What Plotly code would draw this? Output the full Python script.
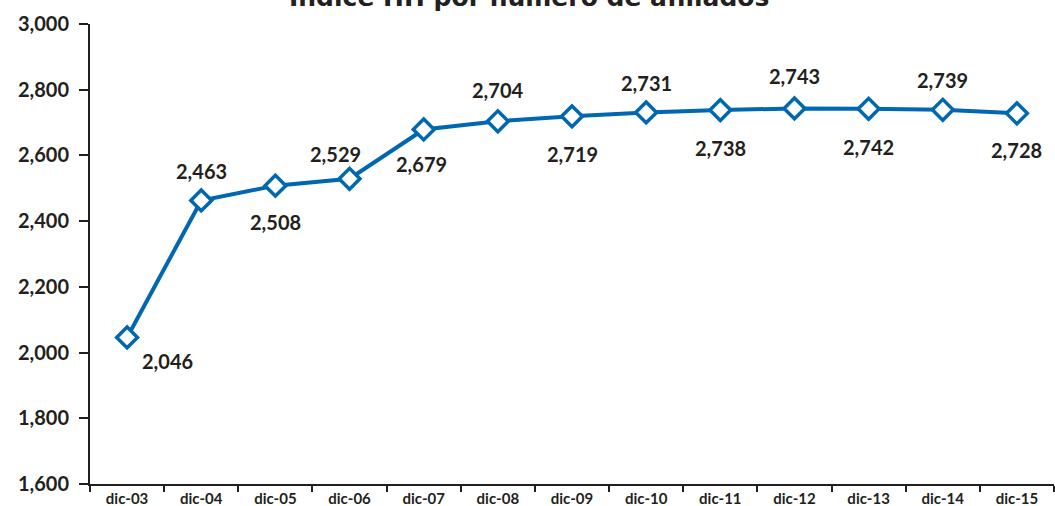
import plotly.graph_objects as go

categories = ["dic-03", "dic-04", "dic-05", "dic-06", "dic-07", "dic-08", "dic-09",
              "dic-10", "dic-11", "dic-12", "dic-13", "dic-14", "dic-15"]
values = [2046, 2463, 2508, 2529, 2679, 2704, 2719, 2731, 2738, 2743, 2742, 2739, 2728]
title_text = "Índice HH por número de afiliados"

# label offsets (pixels): (xshift, yshift)
label_offsets = [(40, -24), (0, 29), (0, -36), (-14, 25), (-2, -35), (0, 31), (0, -38),
                 (0, 29), (0, -38), (0, 32), (0, -38), (0, 30), (0, -37)]

blue = "#0068b0"
dark = "#231f20"
font_family = "Century Gothic, Lato, Noto Sans, sans-serif"
title_family = "Century Gothic, DejaVu Sans, sans-serif"

fig = go.Figure()
fig.add_trace(go.Scatter(
    x=categories, y=values, mode="lines+markers",
    line=dict(color=blue, width=4),
    marker=dict(symbol="diamond", size=16, color="white",
                line=dict(color=blue, width=3.5)),
    cliponaxis=False, showlegend=False,
))

for c, v, (dx, dy) in zip(categories, values, label_offsets):
    fig.add_annotation(x=c, y=v, xref="x", yref="y", text=f"<b>{v:,}</b>",
                       showarrow=False, xshift=dx, yshift=dy,
                       font=dict(size=20, color=dark, family=font_family))

fig.add_annotation(x=0.455, y=1, xref="paper", yref="paper", text=f"<b>{title_text}</b>",
                   showarrow=False, yanchor="bottom", yshift=10,
                   font=dict(size=25, color=dark, family=title_family))

fig.update_layout(
    width=1055, height=506,
    margin=dict(l=90, r=1, t=24, b=22, autoexpand=False),
    paper_bgcolor="white", plot_bgcolor="white",
    font=dict(family=font_family, color=dark),
    xaxis=dict(type="category", showline=True, linecolor=dark, linewidth=2,
               ticks="outside", tickson="boundaries", ticklen=6, tickwidth=2,
               tickcolor=dark, showgrid=False, zeroline=False, automargin=False,
               tickfont=dict(size=15, family=font_family), ticklabelstandoff=0,
               tickprefix="<b>", ticksuffix="</b>", range=[-0.5, 12.5]),
    yaxis=dict(range=[1600, 3000], dtick=200, tickformat=",", showline=True,
               linecolor=dark, linewidth=2, ticks="outside", ticklen=9,
               tickwidth=2, tickcolor=dark, showgrid=False, zeroline=False,
               automargin=False, ticklabelstandoff=6,
               tickfont=dict(size=20, family=font_family),
               tickprefix="<b>", ticksuffix="</b>"),
)

fig.write_html("out.html", post_script="document.body.style.margin='0';",
               config={"displayModeBar": False})
